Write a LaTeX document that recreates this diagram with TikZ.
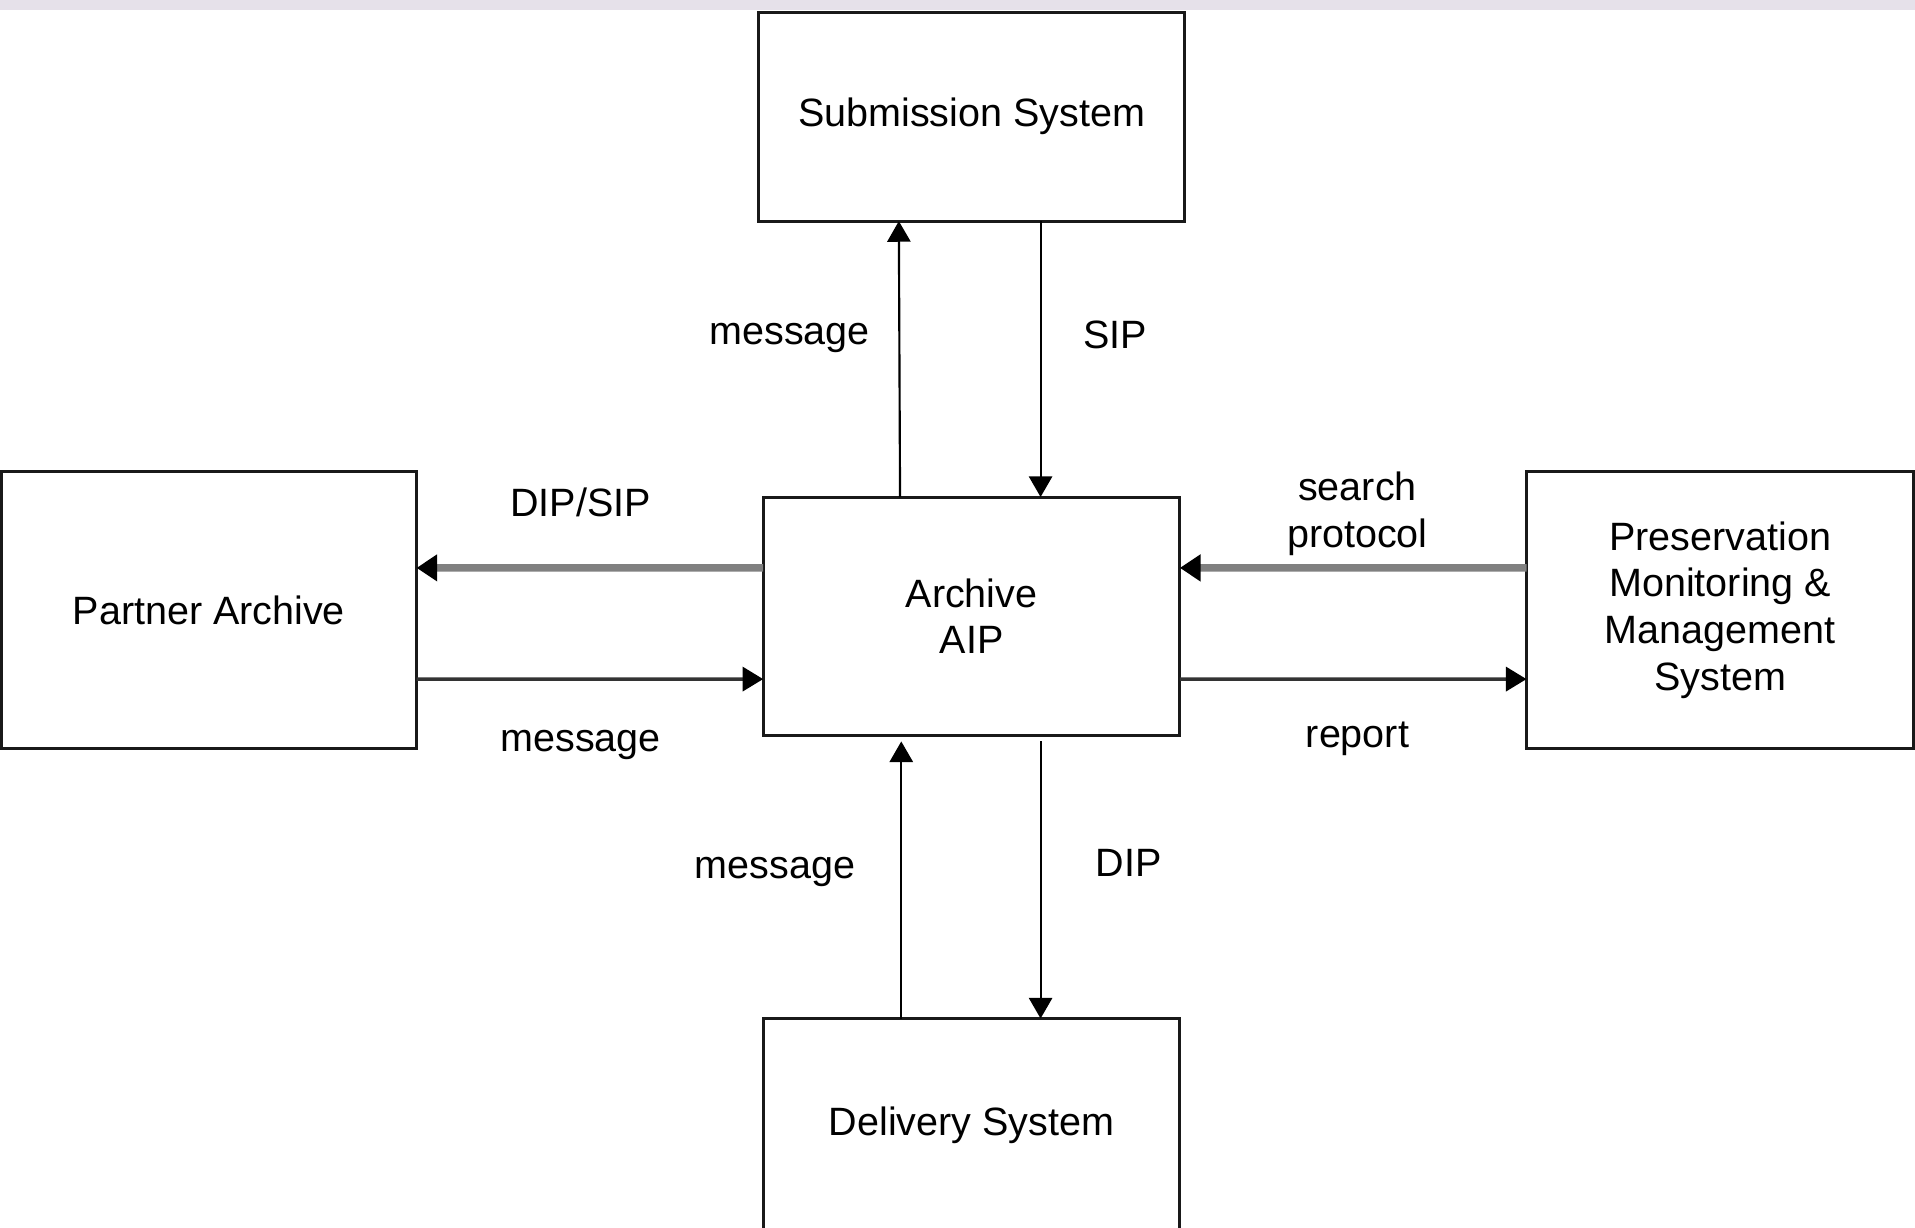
\documentclass[tikz,border=0pt]{standalone}
\usepackage{fontspec}
\setmainfont{Liberation Sans}
\usetikzlibrary{arrows.meta}
\definecolor{stripgray}{HTML}{E6E1EA}

\begin{document}
\begin{tikzpicture}[x=0.01cm, y=-0.01cm,
    every node/.style={font=\fontsize{9.2}{10.9}\selectfont},
    sysbox/.style={draw=black!90, line width=0.7pt, align=center, inner sep=0pt, outer sep=0pt},
    flow/.style={-{Triangle[length=4.8pt,width=5.4pt]}, line width=0.5pt},
    midflow/.style={-{Triangle[length=4.8pt,width=5.6pt,color=black]}, line width=0.8pt, draw=black!80},
    bigflow/.style={-{Triangle[length=4.8pt,width=6pt,color=black]}, line width=1.7pt, draw=black!50}]
                \useasboundingbox (0,0) rectangle (1568,1005);
                \fill[stripgray] (0,0) rectangle (1568,8);

                % Systems
                \node[sysbox, minimum width=3.49cm, minimum height=1.71cm] (sub) at (795.5,95.5) {Submission System};
                \node[sysbox, minimum width=3.40cm, minimum height=2.27cm] (partner) at (171,499.5) {Partner Archive};
                \node[sysbox, minimum width=3.41cm, minimum height=1.95cm] (archive) at (795.5,504.5) {Archive\\AIP};
                \node[sysbox, minimum width=3.17cm, minimum height=2.27cm] (pmm) at (1408.5,499.5) {Preservation\\Monitoring \&\\Management\\System};
                \node[sysbox, minimum width=3.41cm, minimum height=1.74cm] (delivery) at (795.5,921) {Delivery System};

                % Submission links
                \draw[flow] ([xshift=-0.585cm]archive.north) -- ([xshift=-0.595cm]sub.south);
                \draw[flow] ([xshift=0.565cm]sub.south) -- ([xshift=0.565cm]archive.north);
                \node[anchor=base] (msgsub) at (646.5,282) {message};
                \node[anchor=base] (sip) at (913,285) {SIP};

                % Partner links
                \draw[bigflow] ([yshift=0.395cm]archive.west) -- ([yshift=0.345cm]partner.east);
                \draw[midflow] ([yshift=-0.565cm]partner.east) -- ([yshift=-0.515cm]archive.west);
                \node[anchor=base] (dipsip) at (475.5,423) {DIP/SIP};
                \node[anchor=base] (msgpartner) at (475.5,615) {message};

                % Monitoring links
                \draw[bigflow] ([yshift=0.345cm]pmm.west) -- ([yshift=0.395cm]archive.east);
                \draw[midflow] ([yshift=-0.515cm]archive.east) -- ([yshift=-0.565cm]pmm.west);
                \node[align=center] (search) at (1111.5,420.5) {search\\protocol};
                \node[anchor=base] (report) at (1111.5,612) {report};

                % Delivery links
                \draw[flow] ([xshift=-0.575cm]delivery.north) -- ([xshift=-0.575cm,yshift=-0.05cm]archive.south);
                \draw[flow] ([xshift=0.565cm,yshift=-0.05cm]archive.south) -- ([xshift=0.565cm]delivery.north);
                \node[anchor=base] (msgdelivery) at (634.5,719) {message};
                \node[anchor=base] (dip) at (924,718) {DIP};
            \end{tikzpicture}
\end{document}
